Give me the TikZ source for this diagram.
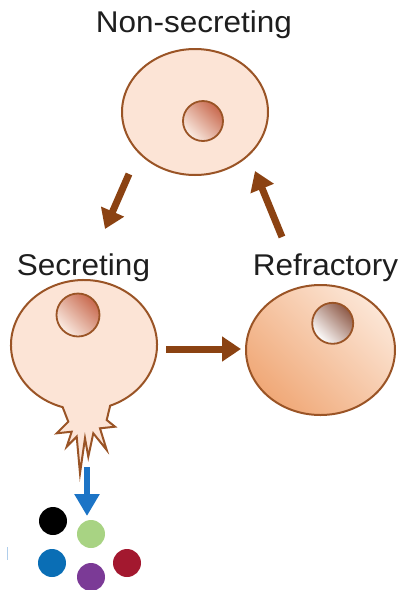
\documentclass[tikz,border=0pt]{standalone}
\usepackage{fontspec}
\setmainfont{Liberation Sans}
\usetikzlibrary{arrows.meta,shapes.geometric}

\definecolor{cellfill}{HTML}{FCE4D6}
\definecolor{cellline}{HTML}{9A5426}
\definecolor{flowbrown}{HTML}{8B4212}
\definecolor{nucdark}{HTML}{C8694E}
\definecolor{nuclight}{HTML}{FBEDE4}
\definecolor{refdark}{HTML}{F0A877}
\definecolor{reflight}{HTML}{FCE6D6}
\definecolor{refnucdark}{HTML}{8E5A48}
\definecolor{releaseblue}{HTML}{1C74C6}
\definecolor{dotgreen}{HTML}{A8D383}
\definecolor{dotblue}{HTML}{0A6EB5}
\definecolor{dotpurple}{HTML}{7B3A96}
\definecolor{dotred}{HTML}{A3182F}
\definecolor{labelgray}{HTML}{1E1E1E}

\tikzset{
  celloutline/.style={draw=cellline, line width=2pt},
  % diagonal shading: dark towards the upper right
  diagshade/.style 2 args={top color=#1, bottom color=#2, shading angle=-45},
  nucleus/.style={circle, draw=cellline, line width=1.8pt, inner sep=0pt,
    minimum size=40pt},
  flow/.style={draw=flowbrown, line width=7pt,
    -{Triangle[length=19pt,width=24pt]}},
  release/.style={draw=releaseblue, line width=6pt,
    -{Triangle[length=22pt,width=24pt]}},
  statelabel/.style={anchor=base, text=labelgray, inner sep=0pt,
    font=\fontsize{30}{36}\selectfont, xscale=1.05},
  granule/.style={circle, inner sep=0pt, minimum size=28pt}
}

\begin{document}
\begin{tikzpicture}[x=1pt,y=1pt]
\useasboundingbox (0,0) rectangle (403,-590);

% state labels
\node[statelabel] (lblnon) at (194,-32.5) {Non-secreting};
\node[statelabel] (lblsec) at (83.5,-275.5) {Secreting};
\node[statelabel] (lblref) at (325.5,-275.5) {Refractory};

% non-secreting cell
\node[ellipse, celloutline, fill=cellfill, minimum width=146pt,
  minimum height=126pt, inner sep=0pt] (noncell) at (195,-112) {};
\node[nucleus, diagshade={nucdark}{nuclight}] (nonnuc) at (203,-121) {};

% secreting cell: round body with a spiky release pole
\path[celloutline, fill=cellfill]
  (84,-345) ++(291:73pt and 65pt)
  arc[start angle=291, end angle=613, x radius=73pt, y radius=65pt]
  -- (68.3,-421.7) -- (56.7,-433.3) -- (71.7,-431.7) -- (66.7,-446.7)
  -- (76.7,-436.7) -- (80,-473.3) -- (85,-438.3) -- (88.3,-456.7)
  -- (93.3,-433.3) -- (106.7,-450) -- (100,-428.3) -- (115,-426.7)
  -- (106.7,-420) -- cycle;
\coordinate (seccell) at (84,-345);
\node[nucleus, minimum size=43pt, diagshade={nucdark}{nuclight}] (secnuc)
  at (78,-315) {};

% refractory cell
\node[ellipse, celloutline, minimum width=149pt, minimum height=130pt,
  inner sep=0pt, diagshade={reflight}{refdark}] (refcell) at (320.5,-350) {};
\node[nucleus, minimum size=41pt, diagshade={refnucdark}{white}] (refnuc)
  at (332.7,-323.3) {};

% transitions between states
\coordinate (a1s) at (129,-174);
\coordinate (a1e) at (105,-229);
\coordinate (a2s) at (166,-349);
\coordinate (a2e) at (241,-349);
\coordinate (a3s) at (282,-237);
\coordinate (a3e) at (255,-171);
\draw[flow] (a1s) -- (a1e);
\draw[flow] (a2s) -- (a2e);
\draw[flow] (a3s) -- (a3e);

% release of granules
\coordinate (rels) at (87,-467);
\coordinate (rele) at (87,-516);
\draw[release] (rels) -- (rele);

\node[granule, fill=black] (gblack) at (53,-521) {};
\node[granule, fill=dotgreen] (ggreen) at (91,-534) {};
\node[granule, fill=dotblue] (gblue) at (52,-563) {};
\node[granule, fill=dotpurple] (gpurple) at (91,-577) {};
\node[granule, fill=dotred] (gred) at (127,-563) {};

% faint stray mark at the left margin
\coordinate (marka) at (7,-547);
\coordinate (markb) at (7,-560);
\draw[draw=releaseblue!35, line width=0.9pt] (marka) -- (markb);
\end{tikzpicture}
\end{document}
